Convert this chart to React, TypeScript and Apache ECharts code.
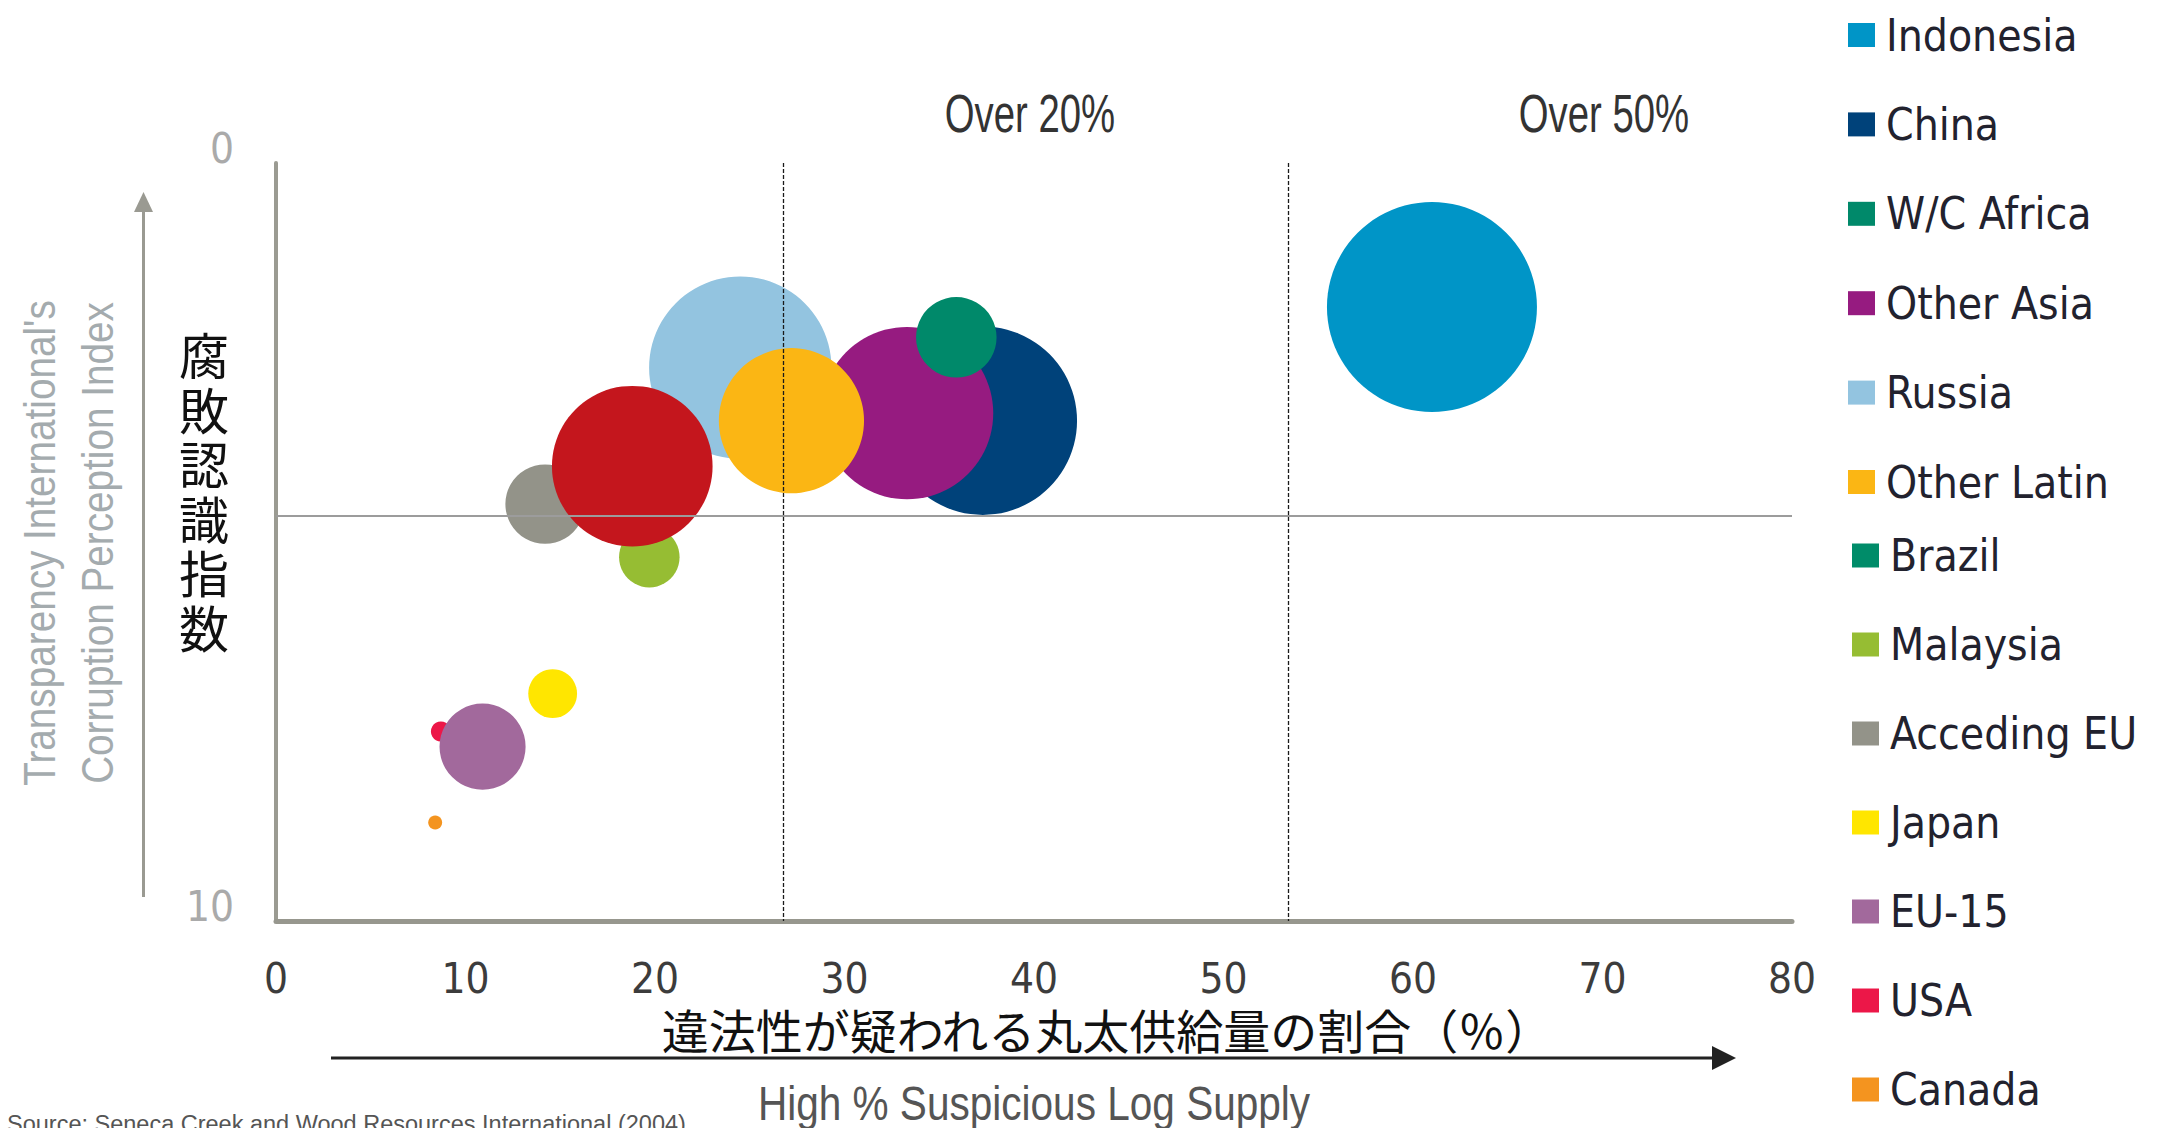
import React, { useEffect, useRef } from 'react';
import * as echarts from 'echarts';

// Legend order
const names = ['Indonesia', 'China', 'W/C Africa', 'Other Asia', 'Russia', 'Other Latin', 'Brazil', 'Malaysia', 'Acceding EU', 'Japan', 'EU-15', 'USA', 'Canada'];
// High % suspicious log supply (x)
const suspiciousPct = [61.0, 37.3, 35.9, 33.3, 24.5, 27.2, 18.8, 19.7, 14.2, 14.6, 10.9, 8.7, 8.4];
// Transparency International CPI (y, 0 at top)
const cpi = [1.9, 3.4, 2.3, 3.3, 2.7, 3.4, 4.0, 5.2, 4.5, 7.0, 7.7, 7.5, 8.7];
// Relative supply volume (bubble area)
const supplyVolume = [100, 80.5, 14.7, 67.4, 75.4, 47.8, 58.5, 8.3, 14.3, 5.4, 16.8, 0.9, 0.44];
const bubbleColors = ['#0095c7', '#00427a', '#00896a', '#961b80', '#93c4e0', '#fbb614', '#c4161d', '#96bd33', '#939389', '#ffe600', '#a2699c', '#ec1748', '#f4941f'];
const legendColors = ['#0095c7', '#00427a', '#00896a', '#961b80', '#93c4e0', '#fbb614', '#008c69', '#96bd33', '#939389', '#ffe600', '#a2699c', '#ec1748', '#f4941f'];
// Drawing order, bottom to top
const drawOrder = ['China', 'Other Asia', 'W/C Africa', 'Russia', 'Other Latin', 'Acceding EU', 'Malaysia', 'Brazil', 'USA', 'EU-15', 'Japan', 'Canada', 'Indonesia'];
const xTicks = [0, 10, 20, 30, 40, 50, 60, 70, 80];
const yTicks = [0, 10];
const thresholdX = [26.75, 53.4];
const thresholdY = [4.66];
const regionLabels = ['Over 20%', 'Over 50%'];
const yTitleJa = ['腐', '敗', '認', '識', '指', '数'];

const COND = '"DejaVu Sans Condensed", "DejaVu Sans", sans-serif';
const ARIAL = '"Liberation Sans", Arial, sans-serif';
const CJK = '"Noto Sans CJK JP", "Noto Sans CJK SC", sans-serif';

export default function App() {
  const ref = useRef<HTMLDivElement>(null);
  useEffect(() => {
    if (!ref.current) return;
    const chart = echarts.init(ref.current, undefined, { renderer: 'svg' });

    const series: any[] = drawOrder.map((n) => {
      const i = names.indexOf(n);
      return {
        type: 'scatter',
        name: n,
        data: [[suspiciousPct[i], cpi[i], supplyVolume[i]]],
        symbol: 'circle',
        symbolSize: (d: number[]) => Math.sqrt(d[2]) * 21,
        itemStyle: { color: bubbleColors[i], opacity: 1 },
        emphasis: { disabled: true },
        z: 3,
      };
    });
    series.unshift({
      type: 'scatter',
      name: '__lines',
      data: [],
      z: 1,
      silent: true,
      markLine: {
        silent: true,
        symbol: ['none', 'none'],
        label: { show: false },
        animation: false,
        data: [
          ...thresholdX.map((v) => ({ xAxis: v, lineStyle: { color: '#1a1a1a', width: 1.3, type: [4, 2] } })),
          ...thresholdY.map((v) => ({ yAxis: v, lineStyle: { color: '#9c9c9c', width: 2, type: 'solid' } })),
        ],
      },
    });

    const legendItem = (n: string) => {
      const i = names.indexOf(n);
      return { name: n, itemStyle: { color: legendColors[i] } };
    };
    const legendText = {
      fontFamily: COND,
      fontSize: 44,
      color: '#22222e',
      lineHeight: 56,
      padding: [0, 0, 0, 6],
    };

    const condText = (text: string, x: number, y: number, size: number, sx: number, fill: string, rotation = 0) => ({
      type: 'text',
      x,
      y,
      rotation,
      scaleX: sx,
      style: { text, fontFamily: ARIAL, fontSize: size, fill, align: 'center', verticalAlign: 'middle' },
    });

    const jaChars = yTitleJa.map((ch, k) => ({
      type: 'text',
      x: 204,
      y: 353 + k * 54.5,
      style: { text: ch, fontFamily: CJK, fontSize: 50, lineHeight: 50, fill: '#111111', align: 'center', verticalAlign: 'middle' },
    }));

    const option: any = {
      animation: false,
      backgroundColor: '#ffffff',
      grid: { left: 276, right: 371, top: 163, bottom: 207, containLabel: false },
      xAxis: {
        type: 'value',
        position: 'bottom',
        min: xTicks[0],
        max: xTicks[xTicks.length - 1],
        interval: 10,
        axisLine: { show: true, onZero: false, lineStyle: { color: '#97978e', width: 5 } },
        axisTick: { show: false },
        splitLine: { show: false },
        axisLabel: { color: '#3c3c3c', fontSize: 42, fontFamily: COND, margin: 36 },
      },
      yAxis: {
        type: 'value',
        inverse: true,
        min: yTicks[0],
        max: yTicks[yTicks.length - 1],
        interval: 10,
        axisLine: { show: true, onZero: false, lineStyle: { color: '#9b9b92', width: 4 } },
        axisTick: { show: false },
        splitLine: { show: false },
        axisLabel: { color: '#aaaaaa', fontSize: 42, fontFamily: COND, margin: 42, verticalAlign: 'bottom', lineHeight: 30 },
      },
      legend: [
        {
          orient: 'vertical',
          left: 1843,
          top: 2,
          icon: 'rect',
          itemWidth: 27,
          itemHeight: 24,
          itemGap: 33.4,
          selectedMode: false,
          textStyle: legendText,
          data: names.slice(0, 6).map(legendItem),
        },
        {
          orient: 'vertical',
          left: 1847,
          top: 522.5,
          icon: 'rect',
          itemWidth: 27,
          itemHeight: 24,
          itemGap: 33,
          selectedMode: false,
          textStyle: legendText,
          data: names.slice(6).map(legendItem),
        },
      ],
      graphic: [
        condText(regionLabels[0], 1030, 114, 54, 0.71, '#333333'),
        condText(regionLabels[1], 1604, 114, 54, 0.71, '#333333'),
        condText("Transparency International's", 39, 543, 45, 0.86, '#a4abae', Math.PI / 2),
        condText('Corruption Perception Index', 97, 543, 45, 0.86, '#a4abae', Math.PI / 2),
        ...jaChars,
        { type: 'text', x: 1107, y: 1028, style: { text: '違法性が疑われる丸太供給量の割合（％）', fontFamily: CJK, fontSize: 47, fill: '#111111', align: 'center', verticalAlign: 'middle' } },
        condText('High % Suspicious Log Supply', 1034, 1103, 48, 0.845, '#555555'),
        { type: 'line', shape: { x1: 331, y1: 1058, x2: 1718, y2: 1058 }, style: { stroke: '#222222', lineWidth: 3 } },
        { type: 'polygon', shape: { points: [[1712, 1046], [1736, 1058], [1712, 1070]] }, style: { fill: '#222222' } },
        { type: 'line', shape: { x1: 143.5, y1: 897, x2: 143.5, y2: 206 }, style: { stroke: '#9a9a92', lineWidth: 3 } },
        { type: 'polygon', shape: { points: [[134, 212], [143.5, 192], [153, 212]] }, style: { fill: '#9a9a92' } },
        { type: 'text', x: 7, y: 1112, style: { text: 'Source: Seneca Creek and Wood Resources International (2004)', fontFamily: ARIAL, fontSize: 23.5, fill: '#555555', align: 'left', verticalAlign: 'top' } },
      ],
      series,
    };
    chart.setOption(option);
    return () => chart.dispose();
  }, []);
  return <div ref={ref} style={{ position: 'fixed', left: 0, top: 0, width: 2163, height: 1128 }} />;
}
